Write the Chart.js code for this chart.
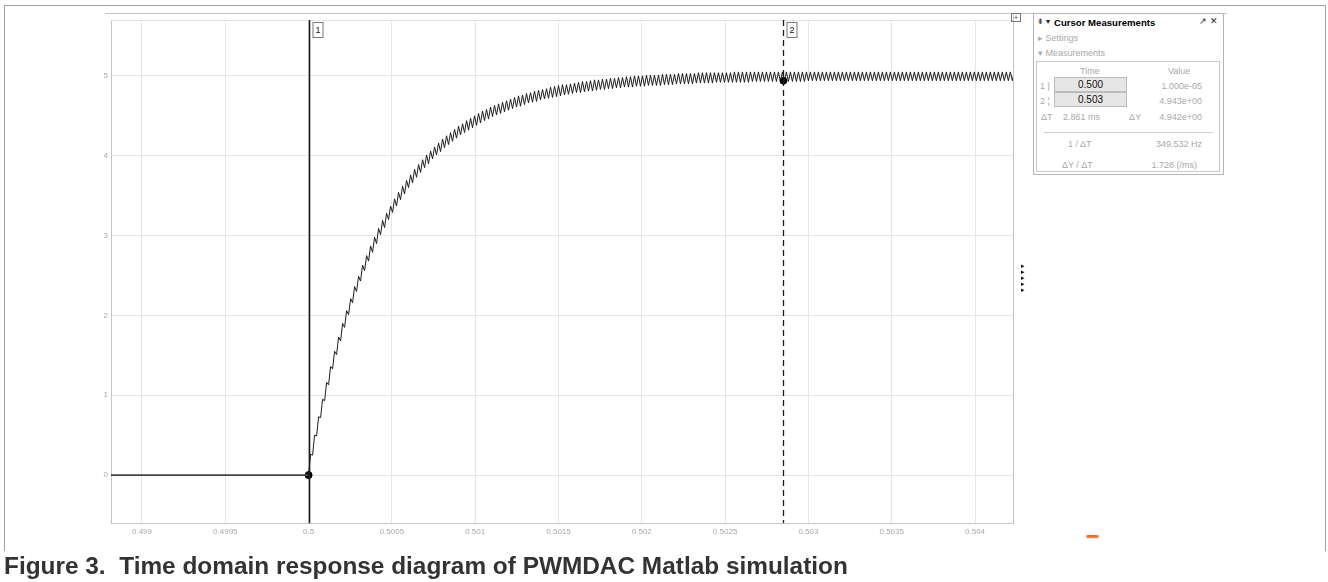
<!DOCTYPE html>
<html>
<head>
<meta charset="utf-8">
<script src="https://cdn.jsdelivr.net/npm/chart.js"></script>
<style>
  body { margin: 0; width: 1328px; height: 582px; overflow: hidden; position: relative; background: #fff;
         font-family: "Liberation Sans", Arial, sans-serif; }
  #scope { position: absolute; left: 0; top: 0; }
  .abs { position: absolute; white-space: pre; }
  #frame { position: absolute; left: 4px; top: 5px; width: 1320px; height: 545px;
           border: 1px solid #a0a0a0; border-bottom: none; }
  #toolbar { position: absolute; left: 105px; top: 13px; width: 1122px; height: 0; border-top: 1px solid #c4c4c4; }
  #panel { position: absolute; left: 1033px; top: 13px; width: 189px; height: 160px;
           border: 1px solid #b4b4b4; background: #fff; font-size: 9px; color: #a8a8a8; }
  #inner { position: absolute; left: 2px; top: 47px; width: 182px; height: 109px; border: 1px solid #c8c8c8; }
  .box { position: absolute; width: 71px; height: 13px; background: #e6e6e6; border: 1px solid #bcbcbc;
         color: #111; text-align: center; line-height: 13px; font-size: 10px; }
  .r { text-align: right; }
  #caption { position: absolute; left: 4px; top: 554px; font-size: 24.4px; line-height: 24px; font-weight: bold;
             color: #333; white-space: pre; }
</style>
</head>
<body>
<div id="frame"></div>
<div id="toolbar"></div>
<canvas id="scope" width="1328" height="582"></canvas>

<div class="abs" style="left:1011px;top:13px;width:8px;height:7px;border:1px solid #777;font-size:7px;line-height:7px;text-align:center;color:#333">+</div>
<div class="abs" style="left:1021px;top:263px;font-size:7px;line-height:6px;color:#111">▸<br>▸<br>▸<br>▸<br>▸</div>
<div class="abs" style="left:1086px;top:535px;width:13px;height:3px;background:#f26a2e;border-radius:0 3px 0 3px;transform:skewX(-30deg)"></div>

<div id="panel">
  <div class="abs" style="left:3px;top:3px;color:#222;font-size:8px">⇟ ▾</div>
  <div class="abs" style="left:20px;top:3px;color:#000;font-weight:bold;font-size:9.6px">Cursor Measurements</div>
  <div class="abs" style="left:165px;top:2px;color:#222;font-size:9px">↗ ✕</div>
  <div class="abs" style="left:4px;top:19px">▸ Settings</div>
  <div class="abs" style="left:4px;top:34px">▾ Measurements</div>
  <div id="inner"></div>
  <div class="abs" style="left:46px;top:52px">Time</div>
  <div class="abs" style="left:134px;top:52px">Value</div>
  <div class="abs" style="left:6px;top:67px">1 |</div>
  <div class="box" style="left:20px;top:63px">0.500</div>
  <div class="abs r" style="left:110px;top:67px;width:58px">1.000e-05</div>
  <div class="abs" style="left:6px;top:82px">2 ¦</div>
  <div class="box" style="left:20px;top:78px">0.503</div>
  <div class="abs r" style="left:110px;top:82px;width:58px">4.943e+00</div>
  <div class="abs" style="left:7px;top:98px">ΔT</div>
  <div class="abs" style="left:29px;top:98px">2.861 ms</div>
  <div class="abs" style="left:95px;top:98px">ΔY</div>
  <div class="abs r" style="left:110px;top:98px;width:58px">4.942e+00</div>
  <div class="abs" style="left:10px;top:118px;width:169px;height:0;border-top:1px solid #cfcfcf"></div>
  <div class="abs" style="left:34px;top:125px">1 / ΔT</div>
  <div class="abs r" style="left:100px;top:125px;width:68px">349.532 Hz</div>
  <div class="abs" style="left:28px;top:146px">ΔY / ΔT</div>
  <div class="abs r" style="left:100px;top:146px;width:63px">1.728 (/ms)</div>
</div>

<div id="caption">Figure 3.  Time domain response diagram of PWMDAC Matlab simulation</div>

<script>
// axis ticks
const timeTicks = [0.499, 0.4995, 0.5, 0.5005, 0.501, 0.5015, 0.502, 0.5025, 0.503, 0.5035, 0.504];
const timeTickLabels = ['0.499', '0.4995', '0.5', '0.5005', '0.501', '0.5015', '0.502', '0.5025', '0.503', '0.5035', '0.504'];
const voltTicks = [0, 1, 2, 3, 4, 5];

// output stays at 0 until the PWM starts
const idleTimes = [0.4988, 0.5];
const idleVolts = [0, 0];

// PWM output, one low and one high value per PWM cycle
const pwmStart = 0.5;
const pwmPeriod = 0.000024;
const troughVolts = [
  0.00,0.25,0.49,0.72,0.93,1.13,1.33,1.51,1.68,1.85,
  2.01,2.16,2.30,2.43,2.56,2.68,2.79,2.90,3.01,3.10,
  3.20,3.29,3.37,3.45,3.52,3.60,3.66,3.73,3.79,3.85,
  3.90,3.96,4.01,4.05,4.10,4.14,4.18,4.22,4.26,4.29,
  4.32,4.35,4.38,4.41,4.44,4.46,4.49,4.51,4.53,4.55,
  4.57,4.59,4.61,4.62,4.64,4.66,4.67,4.68,4.70,4.71,
  4.72,4.73,4.74,4.75,4.76,4.77,4.78,4.79,4.79,4.80,
  4.81,4.81,4.82,4.83,4.83,4.84,4.84,4.85,4.85,4.86,
  4.86,4.86,4.87,4.87,4.87,4.88,4.88,4.88,4.88,4.89,
  4.89,4.89,4.90,4.90,4.90,4.90,4.90,4.91,4.91,4.91,
  4.91,4.91,4.92,4.92,4.92,4.92,4.92,4.92,4.92,4.92,
  4.92,4.93,4.93,4.93,4.93,4.93,4.93,4.93,4.93,4.93,
  4.93,4.93,4.93,4.93,4.93,4.94,4.94,4.94,4.94,4.94,
  4.94,4.94,4.94,4.94,4.94,4.94,4.94,4.94,4.94,4.94,
  4.94,4.94,4.94,4.94,4.94,4.94,4.94,4.94,4.94,4.94,
  4.94,4.94,4.94,4.94,4.94,4.94,4.94,4.94,4.94,4.94,
  4.94,4.94,4.94,4.94,4.94,4.94,4.94,4.94,4.94,4.94,
  4.94,4.94,4.94,4.94,4.94,4.94,4.94
];
const peakVolts = [
  0.26,0.50,0.73,0.95,1.16,1.36,1.55,1.73,1.90,2.06,
  2.21,2.36,2.49,2.63,2.75,2.87,2.98,3.09,3.19,3.28,
  3.37,3.46,3.54,3.62,3.69,3.76,3.83,3.89,3.95,4.01,
  4.06,4.11,4.16,4.21,4.25,4.29,4.33,4.37,4.40,4.44,
  4.47,4.50,4.53,4.56,4.58,4.61,4.63,4.65,4.67,4.69,
  4.71,4.73,4.75,4.76,4.78,4.79,4.81,4.82,4.83,4.84,
  4.86,4.87,4.88,4.89,4.89,4.90,4.91,4.92,4.93,4.93,
  4.94,4.95,4.95,4.96,4.96,4.97,4.97,4.98,4.98,4.99,
  4.99,5.00,5.00,5.00,5.01,5.01,5.01,5.01,5.02,5.02,
  5.02,5.02,5.03,5.03,5.03,5.03,5.03,5.04,5.04,5.04,
  5.04,5.04,5.04,5.04,5.04,5.04,5.05,5.05,5.05,5.05,
  5.05,5.05,5.05,5.05,5.05,5.05,5.05,5.05,5.05,5.05,
  5.05,5.05,5.05,5.05,5.05,5.05,5.05,5.05,5.05,5.05,
  5.05,5.05,5.05,5.05,5.05,5.05,5.05,5.05,5.05,5.05,
  5.05,5.05,5.05,5.05,5.05,5.05,5.05,5.05,5.05,5.05,
  5.05,5.05,5.05,5.05,5.05,5.05,5.05,5.05,5.05,5.05,
  5.05,5.05,5.05,5.05,5.05,5.05,5.05,5.05,5.05,5.05,
  5.05,5.05,5.05,5.05,5.05,5.05,5.05
];

// cursors
const cursorLabels = ['1', '2'];
const cursorTimes = [0.5, 0.50285];
const cursorVolts = [0, 4.94];

const wave = [];
troughVolts.forEach((v, k) => {
  wave.push({x: pwmStart + k * pwmPeriod, y: v});
  if (k < peakVolts.length) wave.push({x: pwmStart + (k + 0.5) * pwmPeriod, y: peakVolts[k]});
});

const cursorPlugin = {
  id: 'cursors',
  beforeDatasetsDraw(chart) {
    const c = chart.ctx, a = chart.chartArea;
    c.save();
    c.strokeStyle = '#e2e2e2';
    c.lineWidth = 1;
    c.beginPath();
    c.moveTo(a.left, a.top + 0.5); c.lineTo(a.right, a.top + 0.5);
    c.stroke();
    c.strokeStyle = '#c4c4c4';
    c.beginPath();
    c.moveTo(a.right + 0.5, 13); c.lineTo(a.right + 0.5, a.bottom);
    c.stroke();
    c.restore();
  },
  afterDatasetsDraw(chart) {
    const c = chart.ctx, a = chart.chartArea, xs = chart.scales.x;
    c.save();
    cursorTimes.forEach((t, i) => {
      const px = Math.round(xs.getPixelForValue(t)) + 0.5;
      c.strokeStyle = '#1a1a1a';
      c.lineWidth = i === 0 ? 1.6 : 1.3;
      c.setLineDash(i === 0 ? [] : [6, 4]);
      c.beginPath();
      c.moveTo(px, a.top); c.lineTo(px, a.bottom);
      c.stroke();
      c.setLineDash([]);
      c.fillStyle = '#fff';
      c.strokeStyle = '#777';
      c.lineWidth = 1;
      c.fillRect(px + 3, a.top + 2, 10, 15);
      c.strokeRect(px + 3.5, a.top + 2.5, 10, 15);
      c.fillStyle = '#111';
      c.font = '9px "Liberation Sans", Arial, sans-serif';
      c.textAlign = 'center';
      c.textBaseline = 'middle';
      c.fillText(cursorLabels[i], px + 8.5, a.top + 10.5);
    });
    c.restore();
  }
};

const tickFont = {family: '"Liberation Sans", Arial, sans-serif', size: 8};

new Chart(document.getElementById('scope').getContext('2d'), {
  type: 'line',
  data: {
    datasets: [{
      data: idleTimes.map((t, i) => ({x: t, y: idleVolts[i]})),
      borderColor: '#444',
      borderWidth: 1.6,
      pointRadius: 0
    }, {
      data: wave,
      borderColor: '#1c1c1c',
      borderWidth: 1,
      pointRadius: 0,
      tension: 0
    }, {
      type: 'scatter',
      data: cursorTimes.map((t, i) => ({x: t, y: cursorVolts[i]})),
      backgroundColor: '#000',
      borderColor: '#000',
      pointRadius: 3.5,
      showLine: false
    }]
  },
  options: {
    responsive: false,
    animation: false,
    events: [],
    layout: {padding: {left: 0, top: 20, right: 315, bottom: 0}},
    plugins: {legend: {display: false}, tooltip: {enabled: false}},
    scales: {
      x: {
        type: 'linear',
        min: 0.498814,
        max: 0.504228,
        afterBuildTicks: s => { s.ticks = timeTicks.map(v => ({value: v})); },
        afterFit: s => { s.height = 59; },
        ticks: {
          color: '#a8a8a8', font: tickFont, padding: 4, maxRotation: 0, autoSkip: false,
          callback: (v, i) => timeTickLabels[i]
        },
        grid: {color: '#e6e6e6', drawTicks: false},
        border: {display: true, color: '#c4c4c4'}
      },
      y: {
        min: -0.60,
        max: 5.70,
        afterBuildTicks: s => { s.ticks = voltTicks.map(v => ({value: v})); },
        afterFit: s => { s.width = 111; },
        ticks: {color: '#a8a8a8', font: tickFont, padding: 3, callback: v => String(v)},
        grid: {color: '#e6e6e6', drawTicks: false},
        border: {display: true, color: '#c4c4c4'}
      }
    }
  },
  plugins: [cursorPlugin]
});
</script>
</body>
</html>
